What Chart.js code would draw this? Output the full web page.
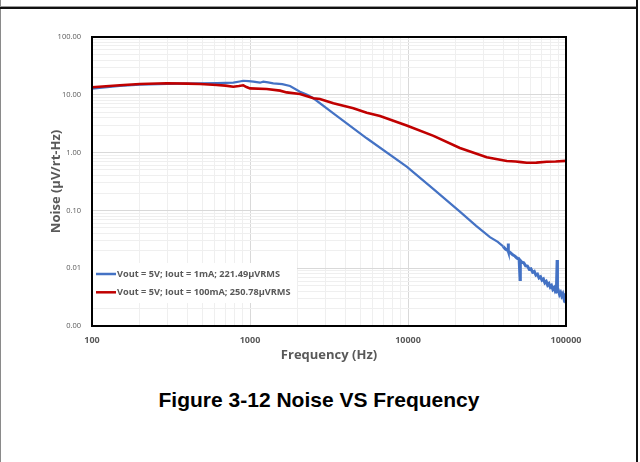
<!DOCTYPE html>
<html>
<head>
<meta charset="utf-8">
<script src="https://cdn.jsdelivr.net/npm/chart.js@4"></script>
<style>
  body { margin: 0; background: #fff; width: 640px; height: 462px; overflow: hidden; position: relative; }
  .edge { position: absolute; }
  #chartBox { position: absolute; left: 0; top: 0; width: 640px; height: 380px; }
  #figTitle {
    position: absolute; left: 0; width: 638px; top: 389px; text-align: center;
    font: bold 21px "Liberation Sans", Arial, sans-serif; line-height: 21px; color: #000;
  }
</style>
</head>
<body>
<div class="edge" style="left:0;top:0;width:1px;height:462px;background:#8a8a8a"></div>
<div class="edge" style="left:0;top:6px;width:638px;height:1px;background:#9a9a9a"></div>
<div class="edge" style="left:0;top:7px;width:638px;height:2px;background:#111"></div>
<div class="edge" style="left:636px;top:0;width:2px;height:462px;background:#111"></div>
<div id="chartBox"><canvas id="myChart"></canvas></div>
<div id="figTitle">Figure 3-12 Noise VS Frequency</div>
<script>
// tick labels (decades)
const xTickLabels = ['100', '1000', '10000', '100000'];
const yTickValues = [0.001, 0.01, 0.1, 1, 10, 100];
const yTickLabels = ['0.00', '0.01', '0.10', '1.00', '10.00', '100.00'];

// Vout = 5V; Iout = 1mA
const freqBlue = [100, 150, 201, 300, 483, 620, 784, 860, 907, 980, 1050, 1157, 1214, 1300, 1404, 1600, 1792, 2071, 2300, 2520,
  3370, 5480, 9810, 14500, 21300, 27000, 33000, 37000, 40000, 41500, 43000, 43100, 43200, 44500, 46000, 47500, 49000, 50500,
  51200, 51400, 52500, 54000, 55500, 57000, 58500, 60000, 61500, 63000, 64500, 66000, 67500, 69000, 70500, 72000, 73500,
  75000, 76500, 78000, 79500, 81000, 82500, 84000, 85500, 87000, 87900, 88300, 89500, 91000, 92500, 94000, 95500, 97000,
  98500, 99500, 100000];
const noiseBlue = [12.8, 14.2, 15.0, 15.5, 15.8, 15.9, 16.2, 17.0, 17.5, 17.3, 16.9, 16.2, 16.9, 16.4, 15.8, 15.3, 14.2, 11.3, 10.0, 8.7,
  4.79, 1.77, 0.570, 0.234, 0.095, 0.054, 0.0345, 0.0285, 0.0238, 0.0212, 0.0202, 0.0268, 0.0196, 0.0186, 0.0171, 0.0162, 0.0149, 0.0143,
  0.0064, 0.0136, 0.0127, 0.0124, 0.0110, 0.0109, 0.0096, 0.0098, 0.0085, 0.0088, 0.0076, 0.0079, 0.0068, 0.0071, 0.0062, 0.0065, 0.0056,
  0.0059, 0.0051, 0.0054, 0.0047, 0.0050, 0.0043, 0.0046, 0.0040, 0.0043, 0.0138, 0.0040, 0.0041, 0.0035, 0.0038, 0.0033, 0.0036, 0.0030,
  0.0033, 0.0025, 0.0031];

// Vout = 5V; Iout = 100mA
const freqRed = [100, 150, 201, 297, 400, 483, 616, 700, 784, 850, 907, 950, 1000, 1276, 1550, 1707, 2071, 2520, 2770, 3370,
  4510, 5480, 6650, 9810, 14500, 21300, 31500, 42200, 48000, 52000, 56400, 65000, 75500, 86000, 100000];
const noiseRed = [13.5, 14.6, 15.4, 15.8, 15.6, 15.4, 14.8, 14.4, 13.8, 14.2, 14.6, 13.6, 12.9, 12.6, 11.8, 11.0, 10.3, 8.7, 8.46, 7.13,
  5.84, 4.9, 4.30, 2.95, 1.95, 1.2, 0.83, 0.716, 0.70, 0.685, 0.668, 0.67, 0.696, 0.70, 0.72];

const seriesLabels = ['Vout = 5V; Iout = 1mA; 221.49µVRMS', 'Vout = 5V; Iout = 100mA; 250.78µVRMS'];

const xDecades = xTickLabels.map(Number);

function toPoints(xs, ys) {
  return xs.map((x, i) => ({ x: x, y: ys[i] }));
}

function logTicks(decades) {
  const ticks = [];
  for (let i = 0; i < decades.length; i++) {
    ticks.push({ value: decades[i] });
    if (i < decades.length - 1) {
      for (let k = 2; k <= 9; k++) ticks.push({ value: decades[i] * k });
    }
  }
  return ticks;
}

function isDecade(v) {
  const e = Math.log10(v);
  return Math.abs(e - Math.round(e)) < 1e-6;
}

const majorGrid = '#d9d9d9';
const minorGrid = '#efefef';
const textGray = '#595959';

const insideLegend = {
  id: 'insideLegend',
  afterDatasetsDraw(chart) {
    const ctx = chart.ctx;
    const a = chart.chartArea;
    ctx.save();
    ctx.fillStyle = '#fff';
    ctx.fillRect(a.left + 1, 263, 204, 40);
    chart.data.datasets.forEach((ds, i) => {
      const y = 274 + i * 18.3;
      ctx.strokeStyle = ds.borderColor;
      ctx.lineWidth = 2.5;
      ctx.beginPath();
      ctx.moveTo(a.left + 4, y);
      ctx.lineTo(a.left + 24, y);
      ctx.stroke();
      ctx.fillStyle = textGray;
      ctx.font = 'bold 9.2px "Open Sans"';
      ctx.textBaseline = 'middle';
      ctx.fillText(ds.label, a.left + 25, y);
    });
    ctx.restore();
  },
  afterDraw(chart) {
    const ctx = chart.ctx;
    const a = chart.chartArea;
    ctx.save();
    ctx.strokeStyle = '#000';
    ctx.lineWidth = 2;
    ctx.strokeRect(a.left, a.top, a.right - a.left, a.bottom - a.top);
    ctx.restore();
  }
};

let ctx = document.getElementById('myChart').getContext('2d');
let chart = new Chart(ctx, {
  type: 'line',
  data: {
    datasets: [{
      label: seriesLabels[0],
      data: toPoints(freqBlue, noiseBlue),
      borderColor: '#4472C4',
      borderWidth: 2.2,
      pointRadius: 0,
      order: 1,
      segment: {
        borderWidth: (c) => c.p0.parsed.x >= 40000 ? 3 : undefined
      }
    }, {
      label: seriesLabels[1],
      data: toPoints(freqRed, noiseRed),
      borderColor: '#C00000',
      borderWidth: 2.6,
      pointRadius: 0,
      order: 0
    }]
  },
  plugins: [insideLegend],
  options: {
    responsive: true,
    maintainAspectRatio: false,
    animation: false,
    layout: { padding: { left: 0, top: 37, right: 74, bottom: 14 } },
    plugins: {
      legend: { display: false },
      tooltip: { enabled: false }
    },
    scales: {
      x: {
        type: 'logarithmic',
        min: xDecades[0],
        max: xDecades[xDecades.length - 1],
        afterBuildTicks: (scale) => { scale.ticks = logTicks(xDecades); },
        afterFit: (scale) => { scale.height = 40; },
        border: { display: false },
        grid: {
          drawTicks: false,
          color: (c) => (c.tick && isDecade(c.tick.value)) ? majorGrid : minorGrid
        },
        ticks: {
          autoSkip: false,
          maxRotation: 0,
          padding: 9,
          color: textGray,
          font: { family: 'Open Sans', size: 9, weight: 'bold' },
          callback: (v) => {
            const i = xDecades.findIndex(d => Math.abs(d - v) < 1e-6);
            return i >= 0 ? xTickLabels[i] : '';
          }
        },
        title: {
          display: true,
          text: 'Frequency (Hz)',
          color: textGray,
          font: { family: 'Open Sans', size: 13, weight: 'bold' },
          padding: { top: 0, bottom: 3.2 }
        }
      },
      y: {
        type: 'logarithmic',
        min: yTickValues[0],
        max: yTickValues[yTickValues.length - 1],
        afterBuildTicks: (scale) => { scale.ticks = logTicks(yTickValues); },
        afterFit: (scale) => { scale.width = 92; },
        border: { display: false },
        grid: {
          drawTicks: false,
          color: (c) => (c.tick && isDecade(c.tick.value)) ? majorGrid : minorGrid
        },
        ticks: {
          autoSkip: false,
          padding: 11,
          color: textGray,
          font: { family: 'Open Sans', size: 7.5 },
          callback: (v) => {
            const i = yTickValues.findIndex(d => Math.abs(d - v) < d * 1e-6);
            return i >= 0 ? yTickLabels[i] : '';
          }
        },
        title: {
          display: true,
          text: 'Noise (µV/rt-Hz)',
          color: textGray,
          font: { family: 'Open Sans', size: 13, weight: 'bold' },
          padding: { top: 48, bottom: 0 }
        }
      }
    }
  }
});
</script>
</body>
</html>
